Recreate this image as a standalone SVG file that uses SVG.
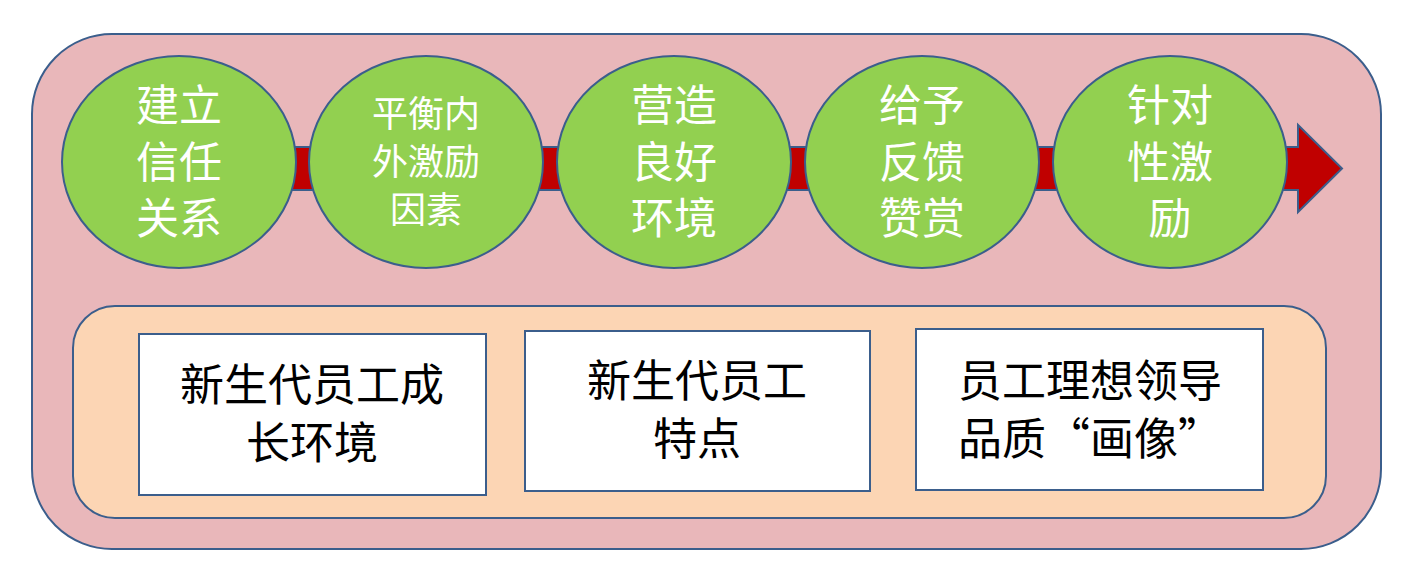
<svg xmlns="http://www.w3.org/2000/svg" width="1403" height="579" viewBox="0 0 1403 579">
<style>
.frame{fill:#E9B7BA;stroke:#3B5E8C;stroke-width:2}
.inner{fill:#FCD5B4;stroke:#3B5E8C;stroke-width:2}
.circ{fill:#92D050;stroke:#3B5E8C;stroke-width:2}
.box{fill:#FFFFFF;stroke:#3B5E8C;stroke-width:2}
.arrow{fill:#C00000;stroke:#3B5E8C;stroke-width:2}
.wt{fill:#FFFFFF;font-family:"Noto Sans CJK SC",sans-serif;font-size:43px;text-anchor:middle}
.ws{fill:#FFFFFF;font-family:"Noto Sans CJK SC",sans-serif;font-size:36px;text-anchor:middle}
.bt{fill:#000000;font-family:"Noto Sans CJK SC",sans-serif;font-size:44px;text-anchor:middle}
</style>
<rect id="frame" class="frame" x="32" y="34" width="1349" height="515" rx="80" ry="80"/>
<g id="connectors">
<path class="arrow" d="M200 147 L1298 147 L1298 125 L1342 168.5 L1298 212 L1298 190 L200 190 Z"/>
</g>
<g id="n1"><ellipse class="circ" cx="179" cy="162" rx="117" ry="106"/>
<text class="wt" x="179" y="121">建立</text><text class="wt" x="179" y="177.5">信任</text><text class="wt" x="179" y="234">关系</text></g>
<g id="n2"><ellipse class="circ" cx="426" cy="162" rx="117" ry="106"/>
<text class="ws" x="426" y="127">平衡内</text><text class="ws" x="426" y="175">外激励</text><text class="ws" x="426" y="223">因素</text></g>
<g id="n3"><ellipse class="circ" cx="674" cy="162" rx="117" ry="106"/>
<text class="wt" x="674" y="121">营造</text><text class="wt" x="674" y="177.5">良好</text><text class="wt" x="674" y="234">环境</text></g>
<g id="n4"><ellipse class="circ" cx="922" cy="162" rx="117" ry="106"/>
<text class="wt" x="922" y="121">给予</text><text class="wt" x="922" y="177.5">反馈</text><text class="wt" x="922" y="234">赞赏</text></g>
<g id="n5"><ellipse class="circ" cx="1170" cy="162" rx="117" ry="106"/>
<text class="wt" x="1170" y="121">针对</text><text class="wt" x="1170" y="177.5">性激</text><text class="wt" x="1170" y="234">励</text></g>
<g id="panel"><rect class="inner" x="73" y="306" width="1253" height="212" rx="42" ry="42"/></g>
<g id="b1"><rect class="box" x="139" y="334" width="347" height="161"/>
<text class="bt" x="312" y="401">新生代员工成</text><text class="bt" x="312" y="459">长环境</text></g>
<g id="b2"><rect class="box" x="525" y="331" width="345" height="160"/>
<text class="bt" x="697" y="397">新生代员工</text><text class="bt" x="697" y="455">特点</text></g>
<g id="b3"><rect class="box" x="916" y="329" width="347" height="161"/>
<text class="bt" x="1090" y="397">员工理想领导</text><text class="bt" x="1090" y="455">品质“画像”</text></g>
</svg>
